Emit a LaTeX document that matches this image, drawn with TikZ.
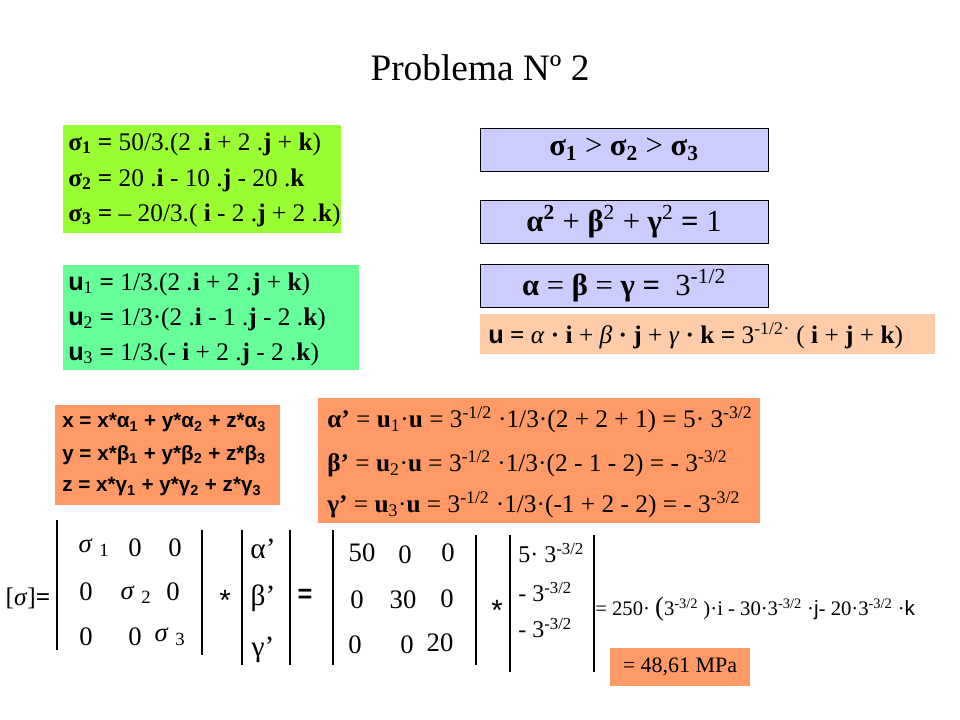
\documentclass[tikz,border=0pt]{standalone}
\usepackage{fontspec}
\setmainfont{Liberation Serif}
\newfontfamily\arl{Liberation Sans}
\definecolor{lime}{RGB}{153,255,51}
\definecolor{mint}{RGB}{102,255,153}
\definecolor{lav}{RGB}{204,204,255}
\definecolor{peach}{RGB}{255,204,170}
\definecolor{orng}{RGB}{255,153,102}
\newcommand{\sps}[1]{\textsuperscript{#1}}
\newcommand{\sbs}[1]{\textsubscript{#1}}
\begin{document}
\begin{tikzpicture}[x=0.75pt,y=-0.75pt,
  txt/.style={anchor=west,inner sep=0pt,font=\fontsize{19}{22}\selectfont},
  big/.style={anchor=west,inner sep=0pt,font=\fontsize{19}{22}\selectfont},
  cen/.style={inner sep=0pt,font=\fontsize{19}{22}\selectfont},
  mx/.style={inner sep=0pt,font=\fontsize{20}{22}\selectfont},
  lavbox/.style={draw,fill=lav,line width=0.6pt,minimum width=288*0.75pt,minimum height=43*0.75pt,inner sep=0pt,font=\fontsize{23}{25}\selectfont},
  vl/.style={line width=0.8pt}]
\useasboundingbox (0,0) rectangle (960,720);
\node[inner sep=0pt,font=\fontsize{28}{32}\selectfont] (title) at (480,68) {Problema Nº 2};
% green box
\fill[lime] (63,125) rectangle (341,233);
\node[txt] (s1) at (68,144) {\textbf{σ\sbs{1} =} 50/3.(2 .\textbf{i} + 2 .\textbf{j}  +  \textbf{k})};
\node[txt] (s2) at (68,180) {\textbf{σ\sbs{2} =} 20 .\textbf{i} - 10 .\textbf{j}  - 20 .\textbf{k}};
\node[txt] (s3) at (68,215) {\textbf{σ\sbs{3} =} – 20/3.( \textbf{i} - 2 .\textbf{j}  + 2 .\textbf{k})};
% mint box
\fill[mint] (63,265) rectangle (359,370);
\node[txt] (u1) at (68,284) {{\arl\bfseries u}\sbs{1} \textbf{=} 1/3.(2 .\textbf{i} + 2 .\textbf{j}  +  \textbf{k})};
\node[txt] (u2) at (68,319) {{\arl\bfseries u}\sbs{2} \textbf{=} 1/3·(2 .\textbf{i} - 1 .\textbf{j}  - 2 .\textbf{k})};
\node[txt] (u3) at (68,354) {{\arl\bfseries u}\sbs{3} \textbf{=} 1/3.(- \textbf{i} + 2 .\textbf{j}  - 2 .\textbf{k})};
% lavender boxes
\node[lavbox] (b1) at (624,149.5) {\textbf{σ\sbs{1}} >  \textbf{σ\sbs{2}}  >  \textbf{σ\sbs{3}}};
\node[lavbox] (b2) at (624,221.5) {\textbf{α\sps{2}} +  \textbf{β}\sps{2} +  \textbf{γ}\sps{2} \textbf{=} 1};
\node[lavbox] (b3) at (624,285.5) {\textbf{α} =  \textbf{β}  =  \textbf{γ = } 3\sps{-1/2}};
% peach box
\fill[peach] (480,314) rectangle (935,354);
\node[txt] (u) at (488,336) {{\arl\bfseries u} \textbf{=} \textit{α} \textbf{·} \textbf{i} + \textit{β} \textbf{·} \textbf{j}  + \textit{γ} \textbf{·} \textbf{k =} 3\sps{-1/2}\sps{·} ( \textbf{i} +  \textbf{j}  +  \textbf{k})};
% orange left
\fill[orng] (55,405) rectangle (280,505);
\node[txt,font=\arl\bfseries\fontsize{15.5}{18}\selectfont] (x) at (62,423) {x = x*α\sbs{1} + y*α\sbs{2} + z*α\sbs{3}};
\node[txt,font=\arl\bfseries\fontsize{15.5}{18}\selectfont] (y) at (62,455) {y = x*β\sbs{1} + y*β\sbs{2} + z*β\sbs{3}};
\node[txt,font=\arl\bfseries\fontsize{15.5}{18}\selectfont] (z) at (62,487) {z = x*γ\sbs{1} + y*γ\sbs{2} + z*γ\sbs{3}};
% orange right
\fill[orng] (318,398) rectangle (760,523);
\node[big] (a1) at (327,420) {\textbf{α’} = \textbf{u}\sbs{1}·\textbf{u} = 3\sps{-1/2} ·1/3·(2 + 2 + 1) = 5· 3\sps{-3/2}};
\node[big] (a2) at (327,464) {\textbf{β’} = \textbf{u}\sbs{2}·\textbf{u} = 3\sps{-1/2} ·1/3·(2 - 1 - 2) = - 3\sps{-3/2}};
\node[big] (a3) at (327,505) {\textbf{γ’} = \textbf{u}\sbs{3}·\textbf{u} = 3\sps{-1/2} ·1/3·(-1 + 2 - 2) = - 3\sps{-3/2}};
% matrices
\draw[vl] (57,520) -- (57,650);
\draw[vl] (202,530) -- (202,655);
\draw[vl] (242,530) -- (242,665);
\draw[vl] (290,530) -- (290,665);
\draw[vl] (333,530) -- (333,665);
\draw[vl] (476,535) -- (476,665);
\draw[vl] (510,535) -- (510,672);
\draw[vl] (594,535) -- (594,672);
\node[cen] (sig) at (28,598) {[\textit{σ}]\textbf{=}};
\node[mx] (m11) at (94,548) {\textit{σ} \sbs{1}};
\node[mx] (m12) at (135,548) {0};
\node[mx] (m13) at (175,548) {0};
\node[mx] (m21) at (86,592) {0};
\node[mx] (m22) at (136,595) {\textit{σ} \sbs{2}};
\node[mx] (m23) at (173,592) {0};
\node[mx] (m31) at (86,637) {0};
\node[mx] (m32) at (135,637) {0};
\node[mx] (m33) at (170,637) {\textit{σ} \sbs{3}};
\node[mx,font=\arl\fontsize{22}{22}\selectfont] (st1) at (225,600) {*};
\node[mx,font=\fontsize{22}{24}\selectfont] (ap) at (263,549) {α’};
\node[mx,font=\fontsize{22}{24}\selectfont] (bp) at (263,598) {β’};
\node[mx,font=\fontsize{22}{24}\selectfont] (gp) at (263,650) {γ’};
\node[mx,font=\arl\bfseries\fontsize{19}{20}\selectfont] (eq1) at (305,596) {=};
\node[mx] (n11) at (362,553) {50};
\node[mx] (n12) at (405,555) {0};
\node[mx] (n13) at (448,553) {0};
\node[mx] (n21) at (357,600) {0};
\node[mx] (n22) at (403,600) {30};
\node[mx] (n23) at (447,599) {0};
\node[mx] (n31) at (355,645) {0};
\node[mx] (n32) at (407,645) {0};
\node[mx] (n33) at (440,643) {20};
\node[mx,font=\arl\fontsize{22}{22}\selectfont] (st2) at (497,610) {*};
\node[txt,font=\fontsize{18}{20}\selectfont] (v1) at (518,553) {5· 3\sps{-3/2}};
\node[txt,font=\fontsize{18}{20}\selectfont] (v2) at (518,592) {- 3\sps{-3/2}};
\node[txt,font=\fontsize{18}{20}\selectfont] (v3) at (518,628) {- 3\sps{-3/2}};
\node[txt,font=\fontsize{15.5}{18}\selectfont] (res) at (595,609) {= 250· {\fontsize{20}{20}\selectfont(}3\sps{-3/2} )·i - 30·3\sps{-3/2} ·{\arl j}- 20·3\sps{-3/2} ·{\arl k}};
\node[fill=orng,minimum width=140*0.75pt,minimum height=38*0.75pt,inner sep=0pt,font=\fontsize{16.5}{18}\selectfont] (mpa) at (680,667) {= 48,61 MPa};
\end{tikzpicture}
\end{document}
